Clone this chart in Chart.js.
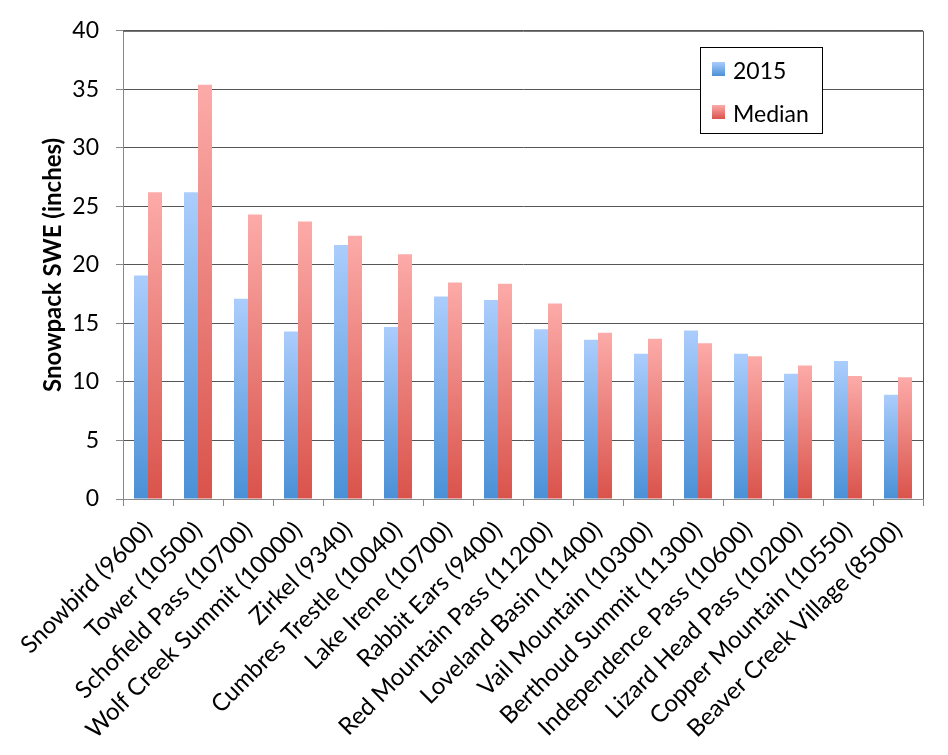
<!DOCTYPE html>
<html>
<head>
<meta charset="utf-8">
<script src="https://cdn.jsdelivr.net/npm/chart.js@4/dist/chart.umd.min.js"></script>
<style>
  html, body { margin: 0; padding: 0; background: #fff; }
  #wrap { width: 948px; height: 755px; position: relative; }
</style>
</head>
<body>
<div id="wrap"><canvas id="c" width="948" height="755"></canvas></div>
<script>
const categories = [
  "Snowbird (9600)", "Tower (10500)", "Schofield Pass (10700)", "Wolf Creek Summit (10000)",
  "Zirkel (9340)", "Cumbres Trestle (10040)", "Lake Irene (10700)", "Rabbit Ears (9400)",
  "Red Mountain Pass (11200)", "Loveland Basin (11400)", "Vail Mountain (10300)",
  "Berthoud Summit (11300)", "Independence Pass (10600)", "Lizard Head Pass (10200)",
  "Copper Mountain (10550)", "Beaver Creek Village (8500)"
];
const values2015 = [19.1, 26.2, 17.1, 14.3, 21.7, 14.7, 17.3, 17.0, 14.5, 13.6, 12.4, 14.4, 12.4, 10.7, 11.8, 8.9];
const valuesMedian = [26.2, 35.4, 24.3, 23.7, 22.5, 20.9, 18.5, 18.4, 16.7, 14.2, 13.7, 13.3, 12.2, 11.4, 10.5, 10.4];
const seriesNames = ["2015", "Median"];
const yTicks = [0, 5, 10, 15, 20, 25, 30, 35, 40];

const BLUE = ["#abcdfc", "#4a90d6"];
const RED = ["#fcaba9", "#d9534b"];
const FONT = "Lato, 'Open Sans', sans-serif";

function barGradient(pair) {
  return function (ctx) {
    const chart = ctx.chart;
    if (!chart.chartArea || ctx.raw === undefined) return pair[1];
    const y = chart.scales.y;
    const top = y.getPixelForValue(ctx.raw);
    const bottom = y.getPixelForValue(0);
    const g = chart.ctx.createLinearGradient(0, top, 0, bottom);
    g.addColorStop(0, pair[0]);
    g.addColorStop(1, pair[1]);
    return g;
  };
}

const boxPlugin = {
  id: 'box',
  afterDraw(chart) {
    const { ctx, chartArea: a } = chart;
    ctx.save();
    ctx.strokeStyle = '#555';
    ctx.lineWidth = 1;
    ctx.beginPath();
    ctx.moveTo(a.left, a.top + 0.5);
    ctx.lineTo(a.right + 0.5, a.top + 0.5);
    ctx.lineTo(a.right + 0.5, a.bottom);
    ctx.stroke();

    // legend
    const lx = 700, ly = 47, lw = 122, lh = 86;
    ctx.fillStyle = '#fff';
    ctx.fillRect(lx, ly, lw, lh);
    ctx.strokeStyle = '#000';
    ctx.strokeRect(lx + 0.5, ly + 0.5, lw, lh);
    const pairs = [BLUE, RED];
    const rows = [62, 105];
    ctx.font = "23px " + FONT;
    ctx.textBaseline = 'alphabetic';
    ctx.textAlign = 'left';
    for (let i = 0; i < 2; i++) {
      const sy = rows[i];
      const g = ctx.createLinearGradient(0, sy, 0, sy + 14);
      g.addColorStop(0, pairs[i][0]);
      g.addColorStop(1, pairs[i][1]);
      ctx.fillStyle = g;
      ctx.fillRect(712, sy, 13, 14);
      ctx.fillStyle = '#000';
      ctx.fillText(chart.data.datasets[i].label, 733, sy + 17);
    }
    ctx.restore();
  }
};

new Chart(document.getElementById('c'), {
  type: 'bar',
  data: {
    labels: categories,
    datasets: [
      { label: seriesNames[0], data: values2015, backgroundColor: barGradient(BLUE), borderWidth: 0 },
      { label: seriesNames[1], data: valuesMedian, backgroundColor: barGradient(RED), borderWidth: 0 }
    ]
  },
  options: {
    responsive: false,
    animation: false,
    devicePixelRatio: 1,
    layout: { padding: { top: 17, right: 25, left: 0, bottom: 0 } },
    datasets: { bar: { categoryPercentage: 0.56, barPercentage: 1.0 } },
    plugins: { legend: { display: false }, tooltip: { enabled: false } },
    scales: {
      x: {
        afterFit(s) { s.height = 256; },
        grid: { offset: true, drawOnChartArea: false, drawTicks: true, tickLength: 7, color: '#888' },
        border: { color: '#888', width: 1 },
        ticks: {
          autoSkip: false, maxRotation: 45, minRotation: 45, padding: 10,
          color: '#000', font: { family: FONT, size: 24 }
        }
      },
      y: {
        min: 0, max: 40,
        afterFit(s) { s.width = 123; },
        afterBuildTicks(s) { s.ticks = yTicks.map(v => ({ value: v })); },
        grid: { color: '#555', tickLength: 7, tickColor: '#888' },
        border: { color: '#888', width: 1 },
        ticks: {
          padding: 17, color: '#000',
          font: { family: FONT, size: 23 }
        },
        title: {
          display: true, text: 'Snowpack SWE (inches)', color: '#000',
          font: { family: FONT, size: 24, weight: 'bold' },
          padding: { top: 39, bottom: 0 }
        }
      }
    }
  },
  plugins: [boxPlugin]
});
</script>
</body>
</html>
